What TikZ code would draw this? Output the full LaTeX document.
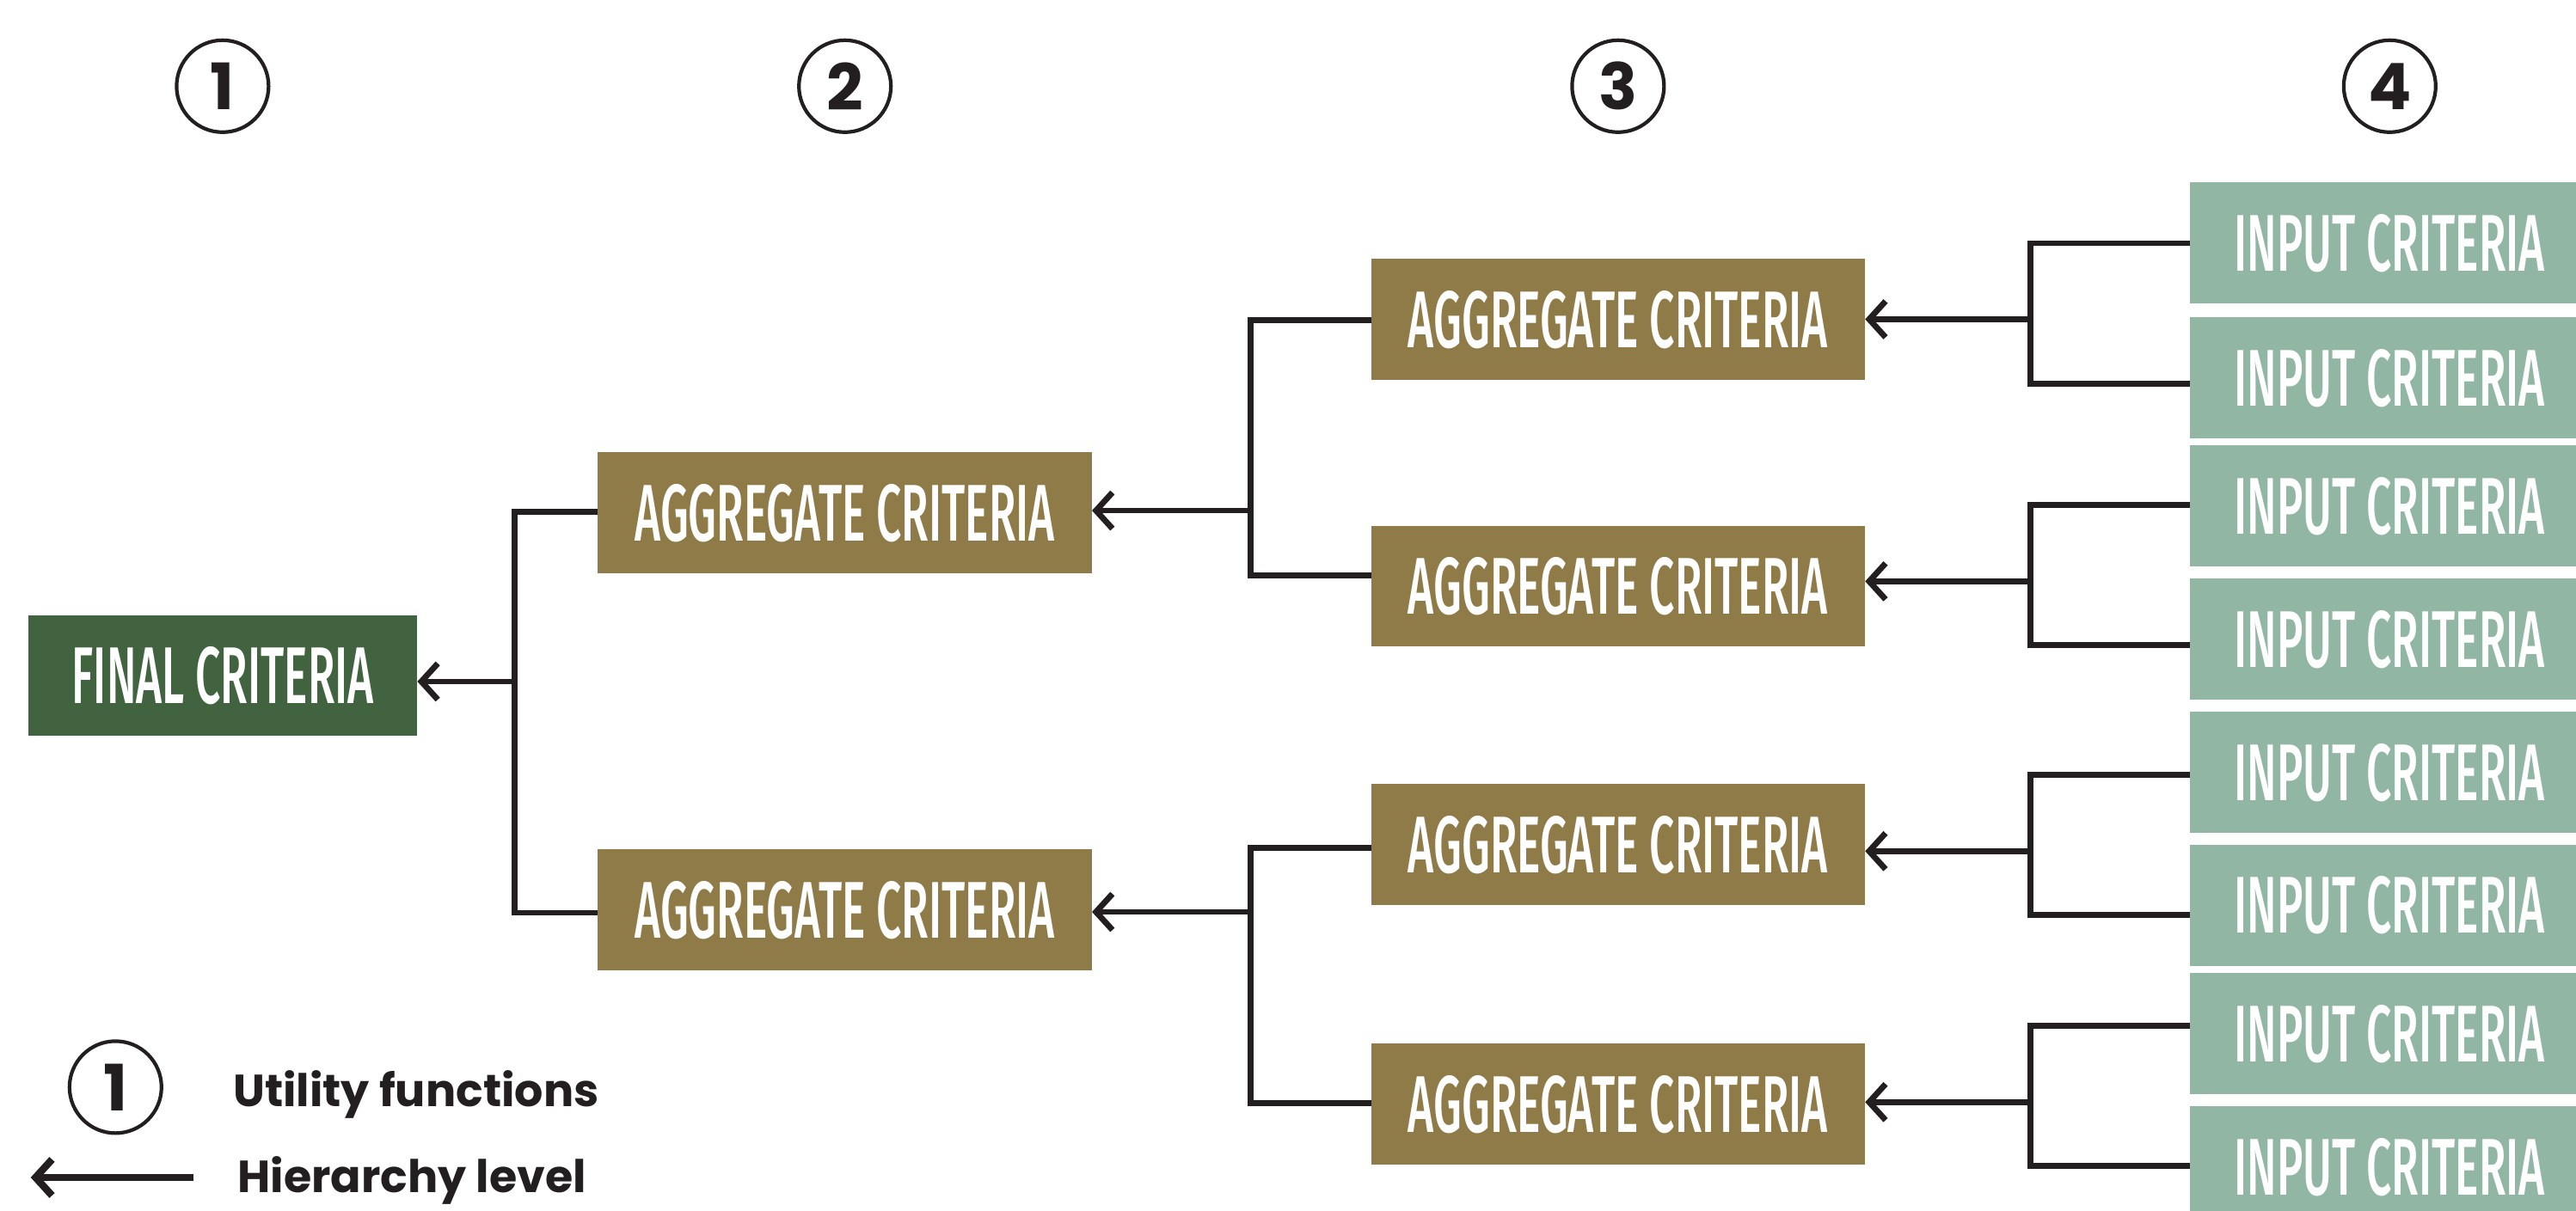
\documentclass[tikz,border=0pt]{standalone}
\usepackage{fontspec}
\usetikzlibrary{arrows.meta}
\newfontfamily\condfont{Fira Sans Medium}[FakeStretch=0.55]
\newfontfamily\popfont{Poppins}
\definecolor{fingreen}{HTML}{41633F}
\definecolor{agggold}{HTML}{8F7B47}
\definecolor{inpgreen}{HTML}{92B6A4}
\definecolor{inkc}{HTML}{231F20}
\begin{document}
\begin{tikzpicture}[x=0.5pt,y=-0.5pt,
 box/.style={inner sep=0pt,outer sep=0pt,text=white,font=\condfont\fontsize{24.5pt}{24.5pt}\selectfont,minimum height=36.85pt},
 finbox/.style={box,fill=fingreen,minimum width=118.35pt},
 aggbox/.style={box,fill=agggold,minimum width=150.4pt},
 inpbox/.style={box,fill=inpgreen,minimum width=121.5pt},
 numcirc/.style={circle,draw=inkc,line width=1.1pt,minimum size=28pt,inner sep=0pt,text=inkc,font=\popfont\bfseries\fontsize{19.5pt}{19.5pt}\selectfont},
 ln/.style={draw=inkc,line width=1.8pt},
 arr/.style={ln,-{Straight Barb[length=5pt,width=11pt]}},
 legtext/.style={anchor=base west,inner sep=0pt,text=inkc,font=\popfont\bfseries\fontsize{13.7pt}{13.7pt}\selectfont}]
\clip (0,0) rectangle (1568,737.4);
\fill[white] (0,0) rectangle (1568,737.4);

% level circles
\node[numcirc] (c1) at (135.5,52.5) {1};
\node[numcirc] (c2) at (514.3,52.5) {2};
\node[numcirc] (c3) at (984.9,52.5) {3};
\node[numcirc] (c4) at (1454.6,52.5) {4};

% boxes
\node[finbox] (fin) at (135.7,411.4) {FINAL CRITERIA};
\node[aggbox] (l2a) at (514.3,312.4) {AGGREGATE CRITERIA};
\node[aggbox] (l2b) at (514.3,554.1) {AGGREGATE CRITERIA};
\node[aggbox] (l3a) at (984.9,194.6) {AGGREGATE CRITERIA};
\node[aggbox] (l3b) at (984.9,356.9) {AGGREGATE CRITERIA};
\node[aggbox] (l3c) at (984.9,514.4) {AGGREGATE CRITERIA};
\node[aggbox] (l3d) at (984.9,672.4) {AGGREGATE CRITERIA};
\node[inpbox] (i1) at (1454.5,148.0) {INPUT CRITERIA};
\node[inpbox] (i2) at (1454.5,230.2) {INPUT CRITERIA};
\node[inpbox] (i3) at (1454.5,308.2) {INPUT CRITERIA};
\node[inpbox] (i4) at (1454.5,389.3) {INPUT CRITERIA};
\node[inpbox] (i5) at (1454.5,470.4) {INPUT CRITERIA};
\node[inpbox] (i6) at (1454.5,551.3) {INPUT CRITERIA};
\node[inpbox] (i7) at (1454.5,629.5) {INPUT CRITERIA};
\node[inpbox] (i8) at (1454.5,710.6) {INPUT CRITERIA};

% bracket coordinates
\coordinate (fT) at (313,311.6);
\coordinate (fB) at (313,555.8);
\coordinate (fJ) at (313,415);
\coordinate (aT) at (761.3,195);
\coordinate (aB) at (761.3,350.3);
\coordinate (aJ) at (761.3,310.9);
\coordinate (bT) at (761.3,516.3);
\coordinate (bB) at (761.3,671.6);
\coordinate (bJ) at (761.3,555.3);
\coordinate (pT) at (1236,148.1);
\coordinate (pB) at (1236,233.5);
\coordinate (pJ) at (1236,194.4);
\coordinate (qT) at (1236,307.6);
\coordinate (qB) at (1236,393);
\coordinate (qJ) at (1236,354);
\coordinate (rT) at (1236,471.9);
\coordinate (rB) at (1236,557.3);
\coordinate (rJ) at (1236,518.3);
\coordinate (sT) at (1236,624.6);
\coordinate (sB) at (1236,710);
\coordinate (sJ) at (1236,671.1);

% level 1 <- level 2
\draw[ln] (fT -| l2a.west) -- (fT) -- (fB) -- (fB -| l2b.west);
\draw[arr] (fJ) -- (fJ -| fin.east);
% level 2 <- level 3
\draw[ln] (aT -| l3a.west) -- (aT) -- (aB) -- (aB -| l3b.west);
\draw[arr] (aJ) -- (aJ -| l2a.east);
\draw[ln] (bT -| l3c.west) -- (bT) -- (bB) -- (bB -| l3d.west);
\draw[arr] (bJ) -- (bJ -| l2b.east);
% level 3 <- level 4
\draw[ln] (pT -| i1.west) -- (pT) -- (pB) -- (pB -| i2.west);
\draw[arr] (pJ) -- (pJ -| l3a.east);
\draw[ln] (qT -| i3.west) -- (qT) -- (qB) -- (qB -| i4.west);
\draw[arr] (qJ) -- (qJ -| l3b.east);
\draw[ln] (rT -| i5.west) -- (rT) -- (rB) -- (rB -| i6.west);
\draw[arr] (rJ) -- (rJ -| l3c.east);
\draw[ln] (sT -| i7.west) -- (sT) -- (sB) -- (sB -| i8.west);
\draw[arr] (sJ) -- (sJ -| l3d.east);

% legend
\node[numcirc] (lc) at (70.3,662) {1};
\node[legtext] (lt1) at (141.5,673.7) {Utility functions};
\coordinate (la) at (117.5,717);
\coordinate (lb) at (18.7,717);
\draw[arr,line width=2.2pt] (la) -- (lb);
\node[legtext] (lt2) at (144.2,726.3) {Hierarchy level};
\end{tikzpicture}
\end{document}
